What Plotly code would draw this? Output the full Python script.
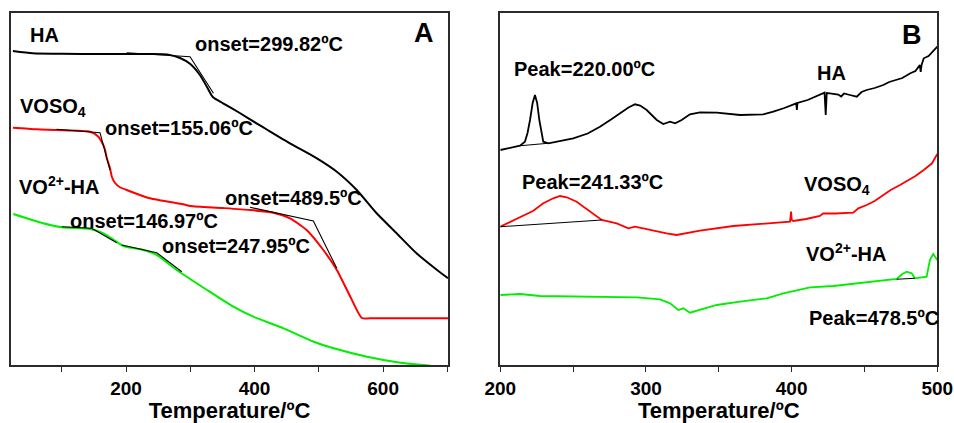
import plotly.graph_objects as go

# ---------------- Panel A (TGA) ----------------
A_HA_T = [24, 55, 100, 160, 237, 264, 284, 300, 315, 326, 335, 351, 377, 403, 419, 455, 497, 528, 559, 590, 621, 652, 684, 701]
A_HA_W = [314, 311.7, 311.2, 311, 311, 310.5, 307, 301, 290, 278, 268, 261.7, 252, 241.7, 235.5, 221.7, 206.7, 193.3, 175, 151.7, 131.7, 111.7, 95, 86.7]

A_VOSO4_T = [24, 61, 92, 144, 157, 163, 167, 170, 175, 178, 183, 190, 201, 237, 289, 300, 350, 393, 429, 455, 481, 507, 528, 549, 567, 580, 701]
A_VOSO4_W = [237.3, 235.7, 235, 233.3, 228.3, 222, 216, 207, 197, 188, 182, 178, 175, 166.7, 160.7, 159, 157, 155, 152.3, 146.7, 135, 115, 95, 68.3, 47, 46.7, 46.7]

A_VOHA_T = [24.6, 71, 100, 144, 165, 196, 227, 248, 279, 326, 367, 398, 445, 492, 523, 575, 627, 673, 702]
A_VOHA_W = [151, 141.7, 137.7, 136, 131.7, 119, 115, 110, 95, 75, 58.3, 48.3, 36.7, 23.3, 16.7, 8.3, 2.3, -0.7, -3]

A_TAN = [
    ([201, 299.6, 336], [312.3, 308.3, 271.7]),
    ([92, 159.5, 175], [235.7, 232.3, 195]),
    ([393, 491.5, 528], [157.7, 144, 96.7]),
    ([100, 146.6, 185.5], [138.3, 136.7, 122.3]),
    ([193.3, 247.8, 286.7], [120, 112.3, 93.3]),
]

# ---------------- Panel B (DSC) ----------------
B_HA_T = [200, 213.5, 216.9, 218.7, 220.4, 222.2, 223.8, 225.3, 226.8, 228.2, 229.5, 233, 250.1, 260, 268.4, 276, 282.2,
          288, 292.5, 296, 300.5, 304, 307.4, 311.9, 316.5, 320, 324.5, 330.2, 337.1, 348.6, 364.6, 380.5, 387.4, 395, 403.2,
          403.6, 404.0, 411, 418.3, 422.6, 423.4, 424.1, 426.3, 432, 434, 436, 440, 444.7, 448, 451.5, 457, 462.9,
          467, 472.1, 476, 481.5, 485, 488.0, 488.6, 489.2, 490.7, 494, 497.5, 500]
B_HA_H = [215, 219.3, 223.3, 232, 245, 262, 270, 262, 245, 232, 223.3, 221.7, 226.7, 231.5, 238.3, 245.5, 251.7,
          257.5, 260.7, 259.5, 255, 249.5, 245, 241, 243.3, 241.7, 245, 250.7, 252.7, 252.3, 250, 250.7, 253.3, 257, 261.7,
          255, 262, 265, 270, 272.3, 250, 272, 271.7, 270.5, 268.5, 271.5, 270, 268.3, 273, 275, 277, 280,
          283, 285, 287, 291.7, 294, 300, 293, 300, 306.7, 309, 315, 318.3]

B_VOSO4_T = [200, 213.5, 222.7, 229.5, 236.4, 241, 245.6, 252.4, 261.6, 269.6, 279.9, 287.9, 292.5, 300.5, 314.2, 321.1,
             337.1, 360, 382.9, 394.3, 398.9, 399.6, 400.1, 401.1, 410, 419.4, 421.7, 430, 442.3, 445.8, 451.5, 457,
             462.9, 468, 474.4, 480.1, 485, 490.7, 496.4, 500]
B_VOSO4_H = [138.3, 148.3, 154.3, 161.7, 166.7, 169, 167.7, 163.3, 153.3, 145, 141.7, 136.7, 138.3, 135.7, 131.7, 130,
             134.3, 139, 141.7, 142.3, 143.3, 153.3, 145, 144, 146, 149, 151.7, 151.5, 152.3, 156.7, 160, 164,
             170, 175, 180, 185, 189, 195, 201.7, 211]

B_VOHA_T = [200, 213.5, 227.3, 257, 280, 293.7, 309.7, 316.5, 322.2, 325.7, 330.2, 337.1, 348.6, 364.6, 382.9,
            394.3, 412.7, 428.7, 447, 463, 472.1, 476, 479, 482.4, 484.6, 492.7, 494.9, 497.2, 499.5, 500]
B_VOHA_H = [70, 71, 69, 68.3, 67.3, 67.7, 65.7, 61.7, 55, 56.7, 52.3, 55, 60, 63.3, 66.7,
            71.7, 77.7, 79, 81.7, 84.3, 86, 91, 93.3, 91.7, 86.7, 88.3, 105, 111, 105.7, 105]

B_TAN = [
    ([213.5, 233], [219.3, 221.7]),
    ([200, 269.6], [138.3, 145]),
    ([472.1, 484.6], [85.7, 86.7]),
]

X_TICKS_A = [200, 400, 600]
X_TICKS_B = [200, 300, 400, 500]

FONT = "Liberation Sans, Arial, sans-serif"
AXC = "#2b2b2b"

fig = go.Figure()

def curve(x, y, color, xa, ya, w=2):
    fig.add_trace(go.Scatter(x=x, y=y, mode="lines", line=dict(color=color, width=w, shape="spline", smoothing=0.6),
                             xaxis=xa, yaxis=ya, showlegend=False, hoverinfo="skip"))

curve(A_HA_T, A_HA_W, "black", "x", "y")
curve(A_VOSO4_T, A_VOSO4_W, "#ff0000", "x", "y")
curve(A_VOHA_T, A_VOHA_W, "#00ee00", "x", "y")
for tx, ty in A_TAN:
    fig.add_trace(go.Scatter(x=tx, y=ty, mode="lines", line=dict(color="black", width=1.1),
                             xaxis="x", yaxis="y", showlegend=False, hoverinfo="skip"))

def curveB(x, y, color):
    fig.add_trace(go.Scatter(x=x, y=y, mode="lines", line=dict(color=color, width=1.8),
                             xaxis="x2", yaxis="y2", showlegend=False, hoverinfo="skip"))

curveB(B_HA_T, B_HA_H, "black")
curveB(B_VOSO4_T, B_VOSO4_H, "#ff0000")
curveB(B_VOHA_T, B_VOHA_H, "#00ee00")
for tx, ty in B_TAN:
    fig.add_trace(go.Scatter(x=tx, y=ty, mode="lines", line=dict(color="black", width=1.1),
                             xaxis="x2", yaxis="y2", showlegend=False, hoverinfo="skip"))

xcommon = dict(showline=True, mirror=True, linecolor=AXC, linewidth=1.5, showgrid=False, zeroline=False,
               automargin=False,
               ticks="outside", ticklen=5, tickwidth=1.3, tickcolor=AXC,
               tickfont=dict(family=FONT, size=19, color="black", weight="bold"),
               title=dict(text="Temperature/ºC", font=dict(family=FONT, size=22, color="black", weight="bold"),
                          standoff=4))
ycommon = dict(showline=True, mirror=True, linecolor=AXC, linewidth=1.5, showgrid=False, zeroline=False,
               automargin=False, showticklabels=False, ticks="", range=[0, 352])

fig.update_layout(
    template="none",
    width=954, height=423,
    margin=dict(l=0, r=0, t=13, b=58, autoexpand=False),
    paper_bgcolor="white", plot_bgcolor="white",
    xaxis=dict(domain=[11/954, 448/954], range=[21, 701], tickvals=X_TICKS_A,
               minor=dict(ticks="outside", dtick=100, tick0=0, ticklen=5, tickwidth=1.3, tickcolor=AXC),
               anchor="y", **xcommon),
    yaxis=dict(domain=[0, 1], anchor="x", **ycommon),
    xaxis2=dict(domain=[500.3/954, 937.3/954], range=[200, 500], tickvals=X_TICKS_B,
                minor=dict(ticks="outside", dtick=50, tick0=0, ticklen=5, tickwidth=1.3, tickcolor=AXC),
                anchor="y2", **xcommon),
    yaxis2=dict(domain=[0, 1], anchor="x2", **ycommon),
)

def ann(text, x, y, xr, yr, size=20, xanchor="left"):
    fig.add_annotation(text=text, x=x, y=y, xref=xr, yref=yr, showarrow=False, xanchor=xanchor, yanchor="middle",
                       font=dict(family=FONT, size=size, color="black", weight="bold"))

ann("HA", 47.5, 330, "x", "y")
ann("onset=299.82ºC", 304.8, 321, "x", "y")
ann("VOSO<sub>4</sub>", 32, 258, "x", "y")
ann("onset=155.06ºC", 164.2, 237, "x", "y")
ann("VO<sup>2+</sup>-HA", 30.3, 180, "x", "y")
ann("onset=489.5ºC", 351.3, 167.5, "x", "y")
ann("onset=146.97ºC", 110.2, 144, "x", "y")
ann("onset=247.95ºC", 252.9, 119, "x", "y")
ann("A", 663.8, 332.5, "x", "y", size=27, xanchor="center")

ann("Peak=220.00ºC", 207.8, 296, "x2", "y2")
ann("HA", 416, 291.7, "x2", "y2")
ann("B", 482.6, 330, "x2", "y2", size=27, xanchor="center")
ann("Peak=241.33ºC", 213.5, 183.3, "x2", "y2")
ann("VOSO<sub>4</sub>", 407, 180, "x2", "y2")
ann("VO<sup>2+</sup>-HA", 408.2, 113, "x2", "y2")
ann("Peak=478.5ºC", 410.5, 46.7, "x2", "y2")

post = ("document.body.style.margin='0';document.body.style.overflow='hidden';"
        "var g=document.getElementById('{plot_id}');Plotly.relayout(g,{width:954,height:423});")
fig.write_html("out.html", config={"responsive": False, "displayModeBar": False}, post_script=post)
